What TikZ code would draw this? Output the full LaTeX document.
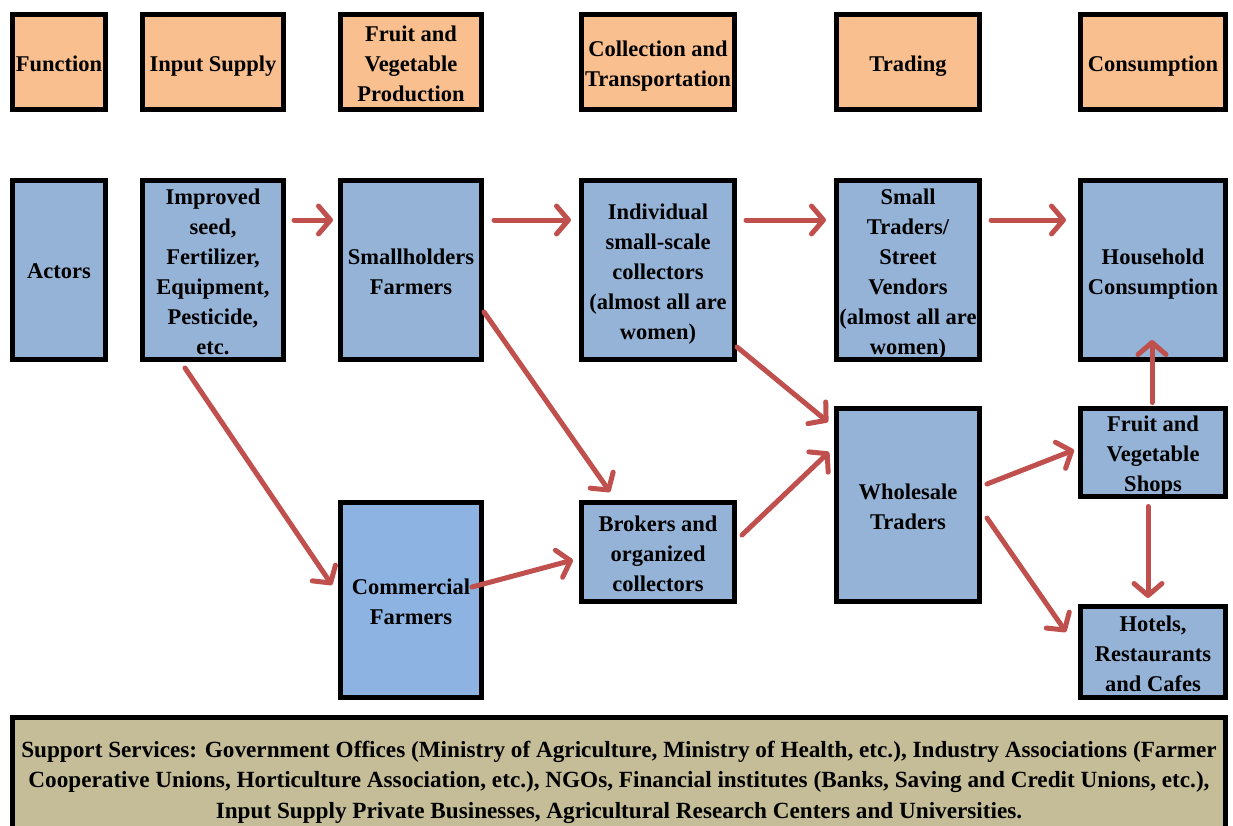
\documentclass[tikz,border=0pt]{standalone}
\usepackage{fontspec}
\setmainfont{Liberation Serif}
\usetikzlibrary{arrows.meta,calc}
\definecolor{funcorange}{HTML}{F9BF8F}
\definecolor{actorblue}{HTML}{95B3D7}
\definecolor{commblue}{HTML}{8DB3E2}
\definecolor{supporttan}{HTML}{C4BD97}
\definecolor{arrowred}{HTML}{C0504D}
\tikzset{
  txt/.style={align=center, inner sep=0pt, yshift=-1.5pt, text depth=0pt,
    font=\fontsize{22.5}{30}\selectfont\bfseries},
  box/.style={draw=black, line width=5pt, inner sep=0pt,
    label={[txt]center:{#1}}},
  funcbox/.style={box={#1}, fill=funcorange},
  actbox/.style={box={#1}, fill=actorblue},
  arr/.style={draw=arrowred, line width=5pt, line cap=round,
    -{Straight Barb[length=12pt,width=28pt,line width=5pt,line join=round,line cap=round]}},
}
\begin{document}
\begin{tikzpicture}[x=1pt,y=-1pt]
\useasboundingbox (0,0) rectangle (1233,825);

% function row
\node[funcbox={Function}, minimum width=93pt, minimum height=95pt] (fn) at (59,62) {};
\node[funcbox={Input Supply}, minimum width=141pt, minimum height=95pt] (inp) at (213,62) {};
\node[funcbox={Fruit and\\Vegetable\\Production}, minimum width=141pt, minimum height=95pt] (fvp) at (411,62) {};
\node[funcbox={Collection and\\Transportation}, minimum width=153pt, minimum height=95pt] (col) at (658,62) {};
\node[funcbox={Trading}, minimum width=143pt, minimum height=95pt] (trd) at (908,62) {};
\node[funcbox={Consumption}, minimum width=145pt, minimum height=95pt] (con) at (1153,62) {};

% actors row
\node[actbox={Actors}, minimum width=93pt, minimum height=179pt] (act) at (59,270) {};
\node[actbox={Improved\\seed,\\Fertilizer,\\Equipment,\\Pesticide,\\etc.}, minimum width=141pt, minimum height=179pt] (imp) at (213,270) {};
\node[actbox={Smallholders\\Farmers}, minimum width=141pt, minimum height=179pt] (sml) at (411,270) {};
\node[actbox={Individual\\small-scale\\collectors\\(almost all are\\women)}, minimum width=153pt, minimum height=179pt] (ind) at (658,270) {};
\node[actbox={Small\\Traders/\\Street\\Vendors\\(almost all are\\women)}, minimum width=143pt, minimum height=179pt] (str) at (908,270) {};
\node[actbox={Household\\Consumption}, minimum width=145pt, minimum height=179pt] (hh) at (1153,270) {};

% lower actors
\node[box={Commercial\\Farmers}, fill=commblue, minimum width=141pt, minimum height=195pt] (com) at (411,600) {};
\node[actbox={Brokers and\\organized\\collectors}, minimum width=153pt, minimum height=99pt] (brk) at (658,552) {};
\node[actbox={Wholesale\\Traders}, minimum width=143pt, minimum height=193pt] (whl) at (908,505) {};
\node[actbox={Fruit and\\Vegetable\\Shops}, minimum width=145pt, minimum height=88pt] (shp) at (1153,452) {};
\node[actbox={Hotels,\\Restaurants\\and Cafes}, minimum width=145pt, minimum height=91pt] (htl) at (1153,652) {};

% support services
\node[draw=black, line width=5pt, fill=supporttan, inner sep=0pt,
      minimum width=1213pt, minimum height=121pt,
      label={[txt, font=\fontsize{23.2}{30.5}\selectfont\bfseries]center:{%
        Support Services: Government Offices (Ministry of Agriculture, Ministry of Health, etc.), Industry Associations (Farmer\\
        Cooperative Unions, Horticulture Association, etc.), NGOs, Financial institutes (Banks, Saving and Credit Unions, etc.),\\
        Input Supply Private Businesses, Agricultural Research Centers and Universities.}}] (sup) at (619,778) {};

% flows along the top row
\draw[arr] ($(imp.east)+(8,-50)$)  -- ($(sml.west)+(-5,-50)$);
\draw[arr] ($(sml.east)+(10,-50)$) -- ($(ind.west)+(-8,-50)$);
\draw[arr] ($(ind.east)+(9,-50)$)  -- ($(str.west)+(-8,-50)$);
\draw[arr] ($(str.east)+(9,-50)$)  -- ($(hh.west)+(-12,-50)$);

% diagonal flows
\draw[arr] ($(imp.south)+(-28,6)$)      -- ($(com.west)+(-6,-15)$);
\draw[arr] ($(sml.east)+(0,42)$)        -- ($(brk.north)+(-48,-8)$);
\draw[arr] ($(ind.south east)+(0,-15)$) -- ($(whl.north west)+(-6,16)$);
\draw[arr] ($(com.east)+(-12,-13)$)     -- ($(brk.west)+(-6,8)$);
\draw[arr] ($(brk.east)+(5,-17)$)       -- ($(whl.west)+(-5,-53)$);
\draw[arr] ($(whl.east)+(5,-21)$)       -- ($(shp.west)+(-4,-2)$);
\draw[arr] ($(whl.east)+(5,13)$)        -- ($(htl.west)+(-12,-20)$);
\draw[arr] ($(shp.north)+(-1,-3)$)      -- ($(hh.south)+(-1,-22)$);
\draw[arr] ($(shp.south)+(-5,8)$)       -- ($(htl.north)+(-5,-6)$);
\end{tikzpicture}
\end{document}
